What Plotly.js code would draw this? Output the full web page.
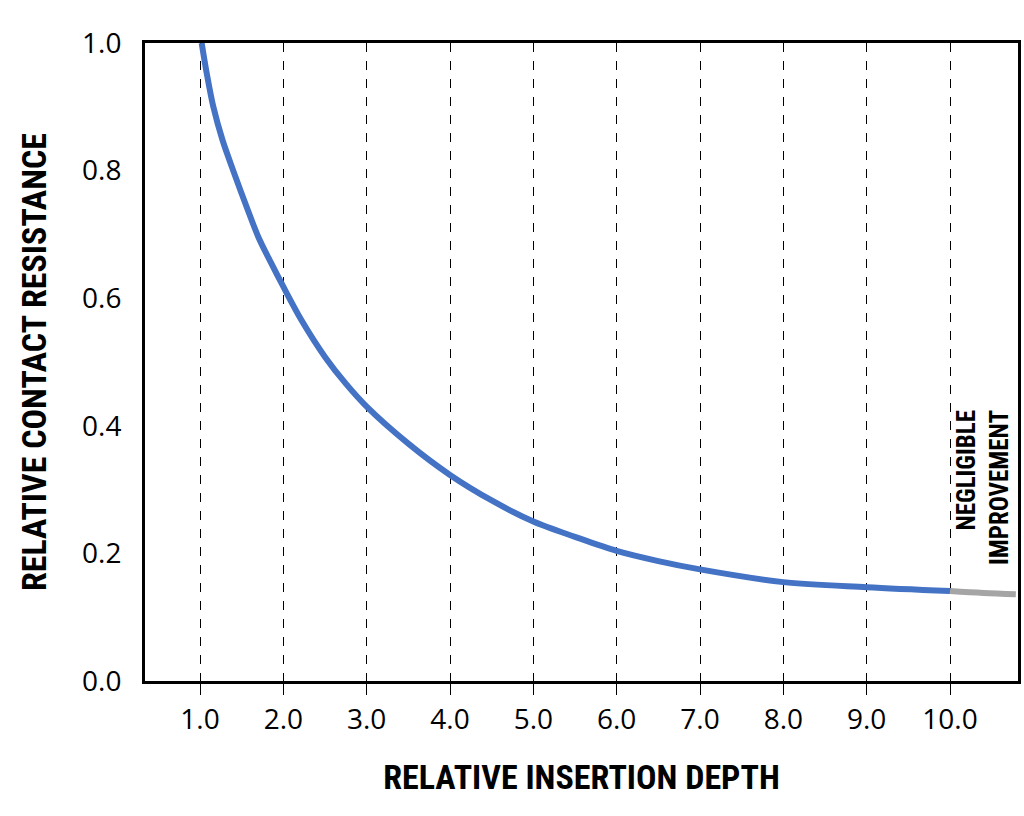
<!DOCTYPE html>
<html>
<head>
<meta charset="utf-8">
<script src="https://cdn.plot.ly/plotly-3.0.1.min.js"></script>
<style>
html,body{margin:0;padding:0;background:#fff;}
#chart{width:1024px;height:816px;}
</style>
</head>
<body>
<div id="chart"></div>
<script>
// Main (blue) curve
var depthMain = [1.02, 1.08, 1.16, 1.27, 1.41, 1.56, 1.70, 1.85, 2.0, 2.22, 2.5, 2.75, 3.0, 3.5, 4.0, 4.5, 5.0, 5.5, 6.0, 6.5, 7.0, 8.0, 9.0, 10.0];
var resistMain = [1.0, 0.953, 0.900, 0.848, 0.796, 0.743, 0.696, 0.656, 0.618, 0.565, 0.508, 0.466, 0.430, 0.372, 0.323, 0.283, 0.250, 0.226, 0.204, 0.188, 0.175, 0.155, 0.147, 0.141];
// Negligible improvement (grey) tail
var depthTail = [10.0, 10.4, 10.79];
var resistTail = [0.141, 0.138, 0.136];
// Tick labels
var xTickVals = [1, 2, 3, 4, 5, 6, 7, 8, 9, 10];
var xTickText = ["1.0", "2.0", "3.0", "4.0", "5.0", "6.0", "7.0", "8.0", "9.0", "10.0"];
var yTickVals = [0, 0.2, 0.4, 0.6, 0.8, 1.0];
var yTickText = ["0.0", "0.2", "0.4", "0.6", "0.8", "1.0"];

var condensed = "'Liberation Sans Narrow', 'Roboto Condensed', 'DejaVu Sans Condensed', sans-serif";

var traces = [
  {x: depthTail, y: resistTail, mode: "lines", type: "scatter",
   line: {color: "#A5A5A5", width: 6, shape: "spline"}, hoverinfo: "skip"},
  {x: depthMain, y: resistMain, mode: "lines", type: "scatter",
   line: {color: "#4472C4", width: 6, shape: "spline", smoothing: 0.9}, hoverinfo: "skip"}
];

var layout = {
  width: 1024, height: 816,
  margin: {l: 145, r: 6, t: 43, b: 135},
  paper_bgcolor: "#ffffff", plot_bgcolor: "#ffffff",
  showlegend: false,
  font: {family: "'Open Sans', sans-serif", color: "#000"},
  xaxis: {
    range: [0.34, 10.816], fixedrange: true,
    tickvals: xTickVals, ticktext: xTickText,
    tickfont: {size: 28, family: "'Open Sans', sans-serif", color: "#000"},
    showgrid: true, gridcolor: "#000", gridwidth: 1, griddash: "dash",
    zeroline: false,
    showline: true, linecolor: "#000", linewidth: 3, mirror: true,
    ticks: "outside", ticklen: 11, tickwidth: 1, tickcolor: "#000",
    title: {text: "RELATIVE INSERTION DEPTH", standoff: 30,
            font: {family: condensed, size: 34, color: "#000", weight: "bold"}}
  },
  yaxis: {
    range: [0, 1], fixedrange: true,
    tickvals: yTickVals, ticktext: yTickText,
    tickfont: {size: 28, family: "'Open Sans', sans-serif", color: "#000"},
    showgrid: false, zeroline: false,
    showline: true, linecolor: "#000", linewidth: 3, mirror: true,
    ticks: "outside", ticklen: 15, tickcolor: "rgba(0,0,0,0)",
    title: {text: "RELATIVE CONTACT RESISTANCE", standoff: 26,
            font: {family: condensed, size: 34, color: "#000", weight: "bold"}}
  },
  annotations: [{
    xref: "paper", yref: "y", x: 0.96, y: 0.178,
    xanchor: "center", yanchor: "bottom",
    text: "NEGLIGIBLE<br>IMPROVEMENT", textangle: -90, align: "right",
    showarrow: false,
    font: {family: condensed, size: 25, color: "#000", weight: "bold"}
  }]
};

Plotly.newPlot("chart", traces, layout, {staticPlot: true, displayModeBar: false});
</script>
</body>
</html>
